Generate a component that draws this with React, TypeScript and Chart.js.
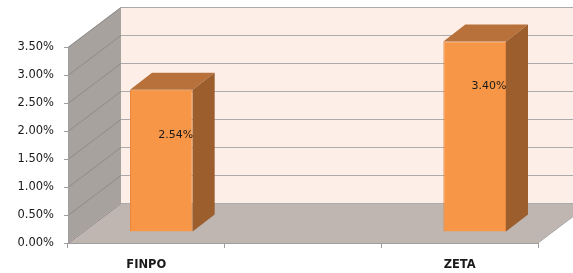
import React, { useEffect, useRef } from "react";
import { Chart, registerables } from "chart.js";

Chart.register(...registerables);

const categories = ["FINPO", "", "ZETA"];
const values: (number | null)[] = [2.54, null, 3.4];
const yMin = 0;
const yMax = 3.5;
const yStep = 0.5;

const WALL_DX = 53;
const WALL_DY = -40;
const BAR_OFF_X = 15;
const BAR_OFF_Y = -11;
const BAR_DX = 22;
const BAR_DY = -17;

const threeD = {
  id: "threeD",
  beforeDraw(chart: any) {
    const { ctx, chartArea } = chart;
    const ys = chart.scales.y;
    const L = chartArea.left;
    const R = chartArea.right;
    const y0 = ys.getPixelForValue(yMin);
    const yT = ys.getPixelForValue(yMax);
    ctx.save();
    ctx.fillStyle = "#FDEEE7";
    ctx.fillRect(L + WALL_DX, yT + WALL_DY, R - L, y0 - yT);
    ctx.fillStyle = "#A8A29F";
    ctx.beginPath();
    ctx.moveTo(L, yT);
    ctx.lineTo(L + WALL_DX, yT + WALL_DY);
    ctx.lineTo(L + WALL_DX, y0 + WALL_DY);
    ctx.lineTo(L, y0);
    ctx.closePath();
    ctx.fill();
    ctx.fillStyle = "#BFB6B2";
    ctx.beginPath();
    ctx.moveTo(L, y0);
    ctx.lineTo(R, y0);
    ctx.lineTo(R + WALL_DX, y0 + WALL_DY);
    ctx.lineTo(L + WALL_DX, y0 + WALL_DY);
    ctx.closePath();
    ctx.fill();
    ctx.lineWidth = 1;
    for (let v = yMin; v <= yMax + 1e-9; v += yStep) {
      const y = Math.round(ys.getPixelForValue(v)) + 0.5;
      ctx.strokeStyle = "#8E8A88";
      ctx.beginPath();
      ctx.moveTo(L, y);
      ctx.lineTo(L + WALL_DX, y + WALL_DY);
      ctx.stroke();
      ctx.strokeStyle = "#ABABAB";
      ctx.beginPath();
      ctx.moveTo(L + WALL_DX, y + WALL_DY);
      ctx.lineTo(R + WALL_DX, y + WALL_DY);
      ctx.stroke();
    }
    ctx.strokeStyle = "#A6A6A6";
    ctx.beginPath();
    ctx.moveTo(R, y0);
    ctx.lineTo(R + WALL_DX, y0 + WALL_DY);
    ctx.stroke();
    ctx.restore();
  },
  beforeDatasetsDraw(chart: any) {
    chart.ctx.save();
    chart.ctx.translate(BAR_OFF_X, BAR_OFF_Y);
  },
  afterDatasetsDraw(chart: any) {
    const { ctx } = chart;
    const meta = chart.getDatasetMeta(0);
    meta.data.forEach((bar: any, i: number) => {
      const v = values[i];
      if (v === null || v === undefined) return;
      const w = bar.width;
      const l = bar.x - w / 2;
      const r = bar.x + w / 2;
      const t = bar.y;
      const b = bar.base;
      ctx.fillStyle = "#B8713A";
      ctx.beginPath();
      ctx.moveTo(l, t);
      ctx.lineTo(l + BAR_DX, t + BAR_DY);
      ctx.lineTo(r + BAR_DX, t + BAR_DY);
      ctx.lineTo(r, t);
      ctx.closePath();
      ctx.fill();
      ctx.fillStyle = "#9B5E2C";
      ctx.beginPath();
      ctx.moveTo(r, t);
      ctx.lineTo(r + BAR_DX, t + BAR_DY);
      ctx.lineTo(r + BAR_DX, b + BAR_DY);
      ctx.lineTo(r, b);
      ctx.closePath();
      ctx.fill();
      ctx.fillStyle = "#1a1a1a";
      ctx.font = "11px 'DejaVu Sans'";
      ctx.textAlign = "right";
      ctx.textBaseline = "middle";
      ctx.fillText(v.toFixed(2) + "%", r + 0.5, t + 45);
    });
    ctx.restore();
  },
};

export default function App() {
  const ref = useRef<HTMLCanvasElement>(null);
  useEffect(() => {
    const chart = new Chart(ref.current!, {
      type: "bar",
      data: {
        labels: categories,
        datasets: [
          {
            data: values,
            backgroundColor: "#F79646",
            borderColor: "#E8873D",
            borderWidth: 1,
            barPercentage: 0.4,
            categoryPercentage: 1,
            clip: false as any,
          },
        ],
      },
      options: {
        responsive: false,
        animation: false,
        layout: { padding: { top: 47, right: 35, left: 0, bottom: 0 } },
        plugins: { legend: { display: false }, tooltip: { enabled: false } },
        scales: {
          x: {
            grid: {
              drawOnChartArea: false,
              drawTicks: true,
              tickLength: 5,
              color: "#9E9E9E",
              offset: true,
            },
            border: { display: true, color: "#9E9E9E" },
            ticks: {
              padding: 10,
              color: "#1a1a1a",
              font: { family: "'DejaVu Sans'", size: 11.5, weight: "bold" },
            },
            afterFit: (s: any) => {
              s.height = 30;
            },
          },
          y: {
            min: yMin,
            max: yMax,
            grid: {
              drawOnChartArea: false,
              drawTicks: true,
              tickLength: 4,
              color: "#9E9E9E",
            },
            border: { display: true, color: "#9E9E9E" },
            ticks: {
              stepSize: yStep,
              padding: 10,
              color: "#1a1a1a",
              font: { family: "'DejaVu Sans'", size: 11.5 },
              callback: (v: any) => Number(v).toFixed(2) + "%",
            },
            afterFit: (s: any) => {
              s.width = 68;
            },
          },
        },
      },
      plugins: [threeD],
    });
    return () => chart.destroy();
  }, []);
  return (
    <div style={{ position: "fixed", left: 0, top: 0, width: 573, height: 273 }}>
      <canvas ref={ref} width={573} height={273} style={{ display: "block" }} />
    </div>
  );
}
